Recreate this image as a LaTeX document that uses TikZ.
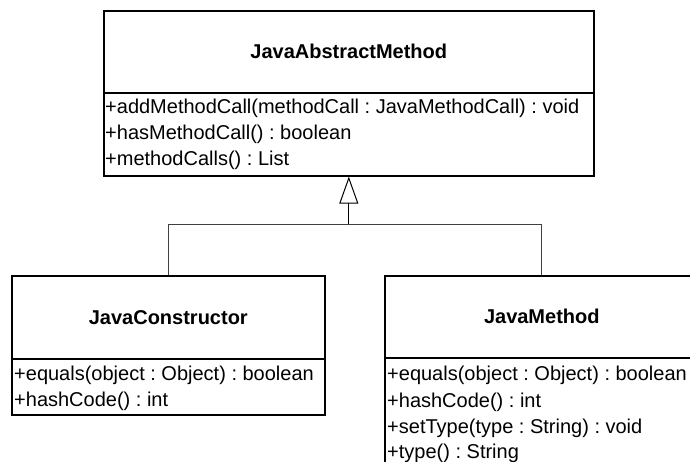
\documentclass[tikz,border=0pt]{standalone}
\usepackage{fontspec}
\setmainfont{Liberation Sans}
\usetikzlibrary{arrows.meta}
\frenchspacing
\begin{document}
\begin{tikzpicture}[x=1pt,y=-1pt,
  compart/.style={draw=black, line width=1.6pt, rectangle, inner sep=0pt,
    anchor=north west, font=\fontsize{20pt}{24pt}\selectfont\bfseries},
  member/.style={anchor=base west, inner sep=0pt,
    font=\fontsize{20pt}{24pt}\selectfont},
  link/.style={draw=black!75, line width=1pt},
  inherit/.style={draw=black, line width=1pt,
    -{Triangle[open, length=27pt, width=19pt, line width=1pt]}}
]
\useasboundingbox (0,0) rectangle (690,461);
\clip (0,0) rectangle (690,461);

% JavaAbstractMethod
\node[compart, minimum width=490pt, minimum height=82pt] (absHead) at (103,10) {JavaAbstractMethod};
\node[compart, minimum width=490pt, minimum height=83pt] (absBody) at (103,92) {};
\node[member] (absM1) at (105,113) {+addMethodCall(methodCall : JavaMethodCall) : void};
\node[member] (absM2) at (105,139) {+hasMethodCall() : boolean};
\node[member] (absM3) at (105,165) {+methodCalls() : List};

% JavaConstructor
\node[compart, minimum width=313pt, minimum height=83pt] (conHead) at (11,275) {JavaConstructor};
\node[compart, minimum width=313pt, minimum height=56pt] (conBody) at (11,358) {};
\node[member] (conM1) at (14,380) {+equals(object : Object) : boolean};
\node[member] (conM2) at (14,406) {+hashCode() : int};

% JavaMethod
\node[compart, minimum width=314pt, minimum height=82pt] (metHead) at (384,275) {JavaMethod};
\node[compart, minimum width=314pt, minimum height=130pt] (metBody) at (384,357) {};
\node[member] (metM1) at (387,380) {+equals(object : Object) : boolean};
\node[member] (metM2) at (387,407) {+hashCode() : int};
\node[member] (metM3) at (387,433) {+setType(type : String) : void};
\node[member] (metM4) at (387,458) {+type() : String};

% generalisation
\coordinate (join) at (absBody.south |- 0,224);
\draw[link] (conHead.north) |- (join);
\draw[link] (metHead.north) |- (join);
\draw[inherit] (join) -- (absBody.south);
\end{tikzpicture}
\end{document}
